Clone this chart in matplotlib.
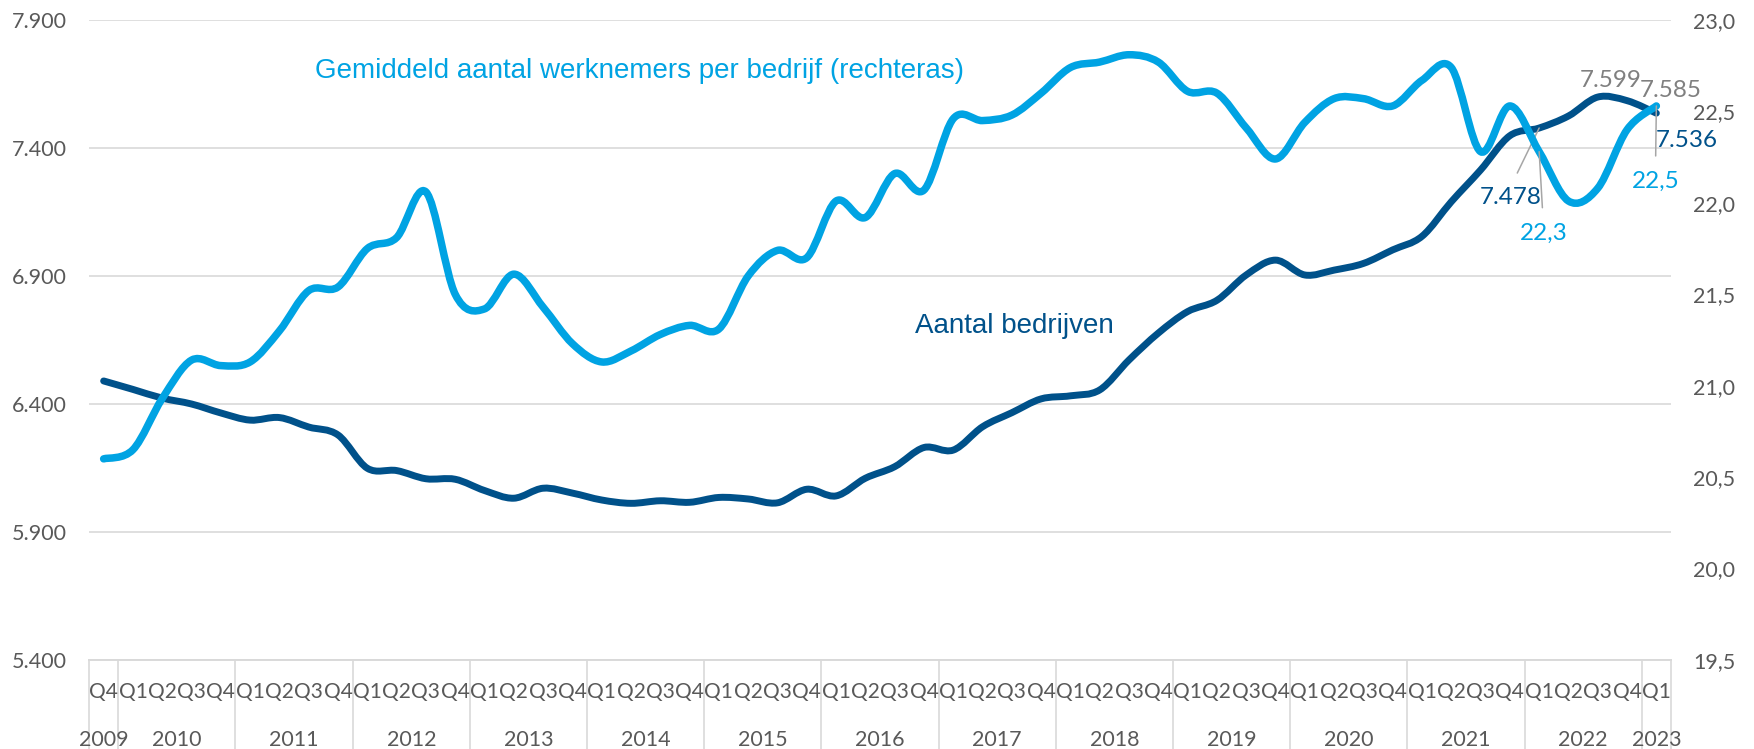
import matplotlib
matplotlib.use("Agg")
import matplotlib.pyplot as plt
from matplotlib.path import Path
from matplotlib.patches import PathPatch
from matplotlib.transforms import blended_transform_factory

# quarters from 2009 Q4 up to 2023 Q1
quarters = ["Q4"] + ["Q1", "Q2", "Q3", "Q4"] * 13 + ["Q1"]
years = ["2009", "2010", "2011", "2012", "2013", "2014", "2015", "2016",
         "2017", "2018", "2019", "2020", "2021", "2022", "2023"]
year_sizes = [1] + [4] * 13 + [1]

# number of companies (left axis)
aantal_bedrijven = [
    6490, 6457, 6423, 6400, 6365, 6337, 6347, 6310, 6279,
    6149, 6140, 6108, 6106, 6062, 6032, 6071, 6052,
    6025, 6012, 6022, 6016, 6035, 6029, 6014, 6067,
    6041, 6110, 6155, 6230, 6220, 6311, 6366, 6420,
    6432, 6455, 6572, 6677, 6761, 6805, 6904, 6962,
    6904, 6923, 6949, 7002, 7055, 7190, 7314, 7448,
    7478, 7525, 7599, 7585, 7536,
]

# average employees per company (right axis)
gem_werknemers = [
    20.60, 20.65, 20.93, 21.14, 21.11, 21.13, 21.30, 21.52, 21.54,
    21.75, 21.81, 22.06, 21.50, 21.42, 21.61, 21.43, 21.23,
    21.13, 21.19, 21.28, 21.33, 21.31, 21.60, 21.74, 21.70,
    22.01, 21.92, 22.16, 22.07, 22.46, 22.45, 22.48, 22.60,
    22.74, 22.77, 22.81, 22.77, 22.61, 22.60, 22.41, 22.24,
    22.44, 22.57, 22.57, 22.53, 22.67, 22.74, 22.28, 22.53,
    22.28, 22.01, 22.08, 22.40, 22.53,
]

DARK = "#00518A"
LIGHT = "#00A3E3"
GREY_TXT = "#595959"
GRID = "#D9D9D9"
FONT = ["Lato", "DejaVu Sans"]
ARIAL = ["Liberation Sans", "DejaVu Sans"]


def smooth_line(ax, ys, color, lw, z):
    # excel style smoothed line: bezier through every point
    n = len(ys)
    xs = list(range(n))
    verts = [(xs[0], ys[0])]
    codes = [Path.MOVETO]
    for k in range(n - 1):
        a = max(k - 1, 0)
        d = min(k + 2, n - 1)
        c1 = (xs[k] + (xs[k + 1] - xs[a]) / 6, ys[k] + (ys[k + 1] - ys[a]) / 6)
        c2 = (xs[k + 1] - (xs[d] - xs[k]) / 6, ys[k + 1] - (ys[d] - ys[k]) / 6)
        verts += [c1, c2, (xs[k + 1], ys[k + 1])]
        codes += [Path.CURVE4] * 3
    patch = PathPatch(Path(verts, codes), facecolor="none", edgecolor=color,
                      lw=lw, capstyle="round", joinstyle="round", zorder=z)
    ax.add_patch(patch)


W, H = 1754, 749
fig = plt.figure(figsize=(W / 100, H / 100), dpi=100)
ax = fig.add_axes([89 / W, 1 - 660 / H, (1671 - 89) / W, 640 / H])
ax2 = ax.twinx()

n = len(quarters)
ax.set_xlim(-0.5, n - 0.5)
ax.set_ylim(5400, 7900)
ax2.set_ylim(19.5, 23.0)

# gridlines
lticks = [5400, 5900, 6400, 6900, 7400, 7900]
rticks = [19.5, 20.0, 20.5, 21.0, 21.5, 22.0, 22.5, 23.0]
ax.set_yticks(lticks)
ax.set_yticklabels([f"{v:,.0f}".replace(",", ".") for v in lticks])
ax2.set_yticks(rticks)
ax2.set_yticklabels([f"{v:.1f}".replace(".", ",") for v in rticks])
ax.grid(axis="y", color=GRID, lw=1.2, zorder=0)
ax.set_axisbelow(True)

for a in (ax, ax2):
    for s in ("top", "left", "right"):
        a.spines[s].set_visible(False)
    a.spines["bottom"].set_color(GRID)
    a.spines["bottom"].set_linewidth(1.2)
    a.tick_params(axis="y", length=0, pad=16, labelsize=15.5, labelcolor=GREY_TXT)
    for lab in a.get_yticklabels():
        lab.set_family(FONT)
ax.set_xticks([])

smooth_line(ax, aantal_bedrijven, DARK, 5.0, 3)
smooth_line(ax2, gem_werknemers, LIGHT, 5.4, 3)

# category axis: quarter labels, year labels and separators
tr = blended_transform_factory(ax.transData, ax.transAxes)
for i, q in enumerate(quarters):
    ax.text(i, -0.059, q, transform=tr, ha="center", va="baseline",
            fontsize=15, color=GREY_TXT, family=FONT)
start = 0
edges = [-0.5]
for y, size in zip(years, year_sizes):
    mid = start + (size - 1) / 2
    ax.text(mid, -0.134, y, transform=tr, ha="center", va="baseline",
            fontsize=15.5, color=GREY_TXT, family=FONT)
    start += size
    edges.append(start - 0.5)
for e in edges:
    ax.plot([e, e], [0, -0.14], transform=tr, color=GRID, lw=1.2,
            clip_on=False, zorder=1)

# series names
ax.text(7.22, 7672, "Gemiddeld aantal werknemers per bedrijf (rechteras)",
        color=LIGHT, fontsize=20, family=ARIAL, va="baseline")
ax.text(27.7, 6676, "Aantal bedrijven", color=DARK, fontsize=20,
        family=ARIAL, va="baseline")

# data labels
lead = dict(arrowstyle="-", color="#A6A6A6", lw=1.1, shrinkA=9, shrinkB=0,
            relpos=(0.5, 1.0))
ax.text(51.43, 7637, "7.599", color="#808080", fontsize=17.5, family=FONT,
        ha="center", va="baseline", zorder=5)
ax.text(53.48, 7600, "7.585", color="#808080", fontsize=17.5, family=FONT,
        ha="center", va="baseline", zorder=5)
ax.text(52.98, 7405, "7.536", color=DARK, fontsize=17.5, family=FONT,
        ha="left", va="baseline", zorder=5)
ax.annotate("7.478", xy=(49, aantal_bedrijven[49]), xytext=(48.02, 7181),
            color=DARK, fontsize=17.5, family=FONT, ha="center",
            va="baseline", arrowprops=lead, annotation_clip=False)
ax2.annotate("22,3", xy=(49, gem_werknemers[49]), xytext=(49.14, 21.797),
             color=LIGHT, fontsize=17.5, family=FONT, ha="center",
             va="baseline", arrowprops=lead, annotation_clip=False)
ax2.annotate("22,5", xy=(53, gem_werknemers[53]), xytext=(52.97, 22.08),
             color=LIGHT, fontsize=17.5, family=FONT, ha="center",
             va="baseline", arrowprops=lead, annotation_clip=False)

fig.savefig("out.png", dpi=100)
